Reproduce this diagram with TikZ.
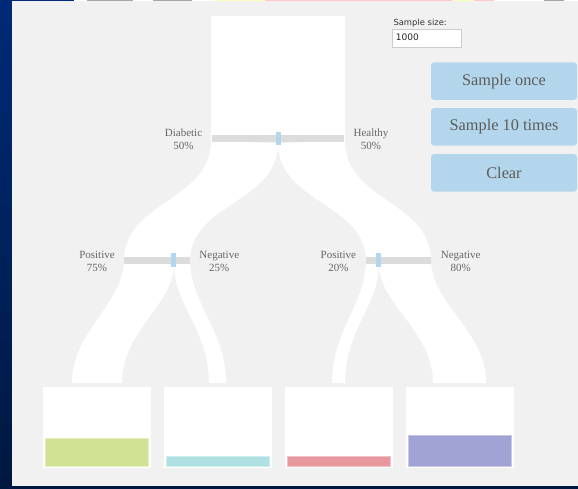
\documentclass[tikz,border=0pt]{standalone}
\usepackage{fontspec}
\setmainfont{Liberation Serif}
\newfontfamily\uifont{DejaVu Sans}
\usepackage{xcolor}
\usepackage{tikz}
\usetikzlibrary{positioning}

\definecolor{panelgray}{HTML}{F1F1F1}
\definecolor{bargray}{HTML}{DCDCDC}
\definecolor{handleblue}{HTML}{B4D5EC}
\definecolor{btnblue}{HTML}{B4D6EC}
\definecolor{labelgray}{HTML}{666666}
\definecolor{btntext}{HTML}{5C5C5C}
\definecolor{navytop}{HTML}{002A78}
\definecolor{navybot}{HTML}{001840}
\definecolor{resgreen}{HTML}{D2E294}
\definecolor{rescyan}{HTML}{B0E1E2}
\definecolor{respink}{HTML}{E8989C}
\definecolor{respurple}{HTML}{A0A3D3}

\tikzset{
        flow/.style={fill=white},
        slider/.style={fill=bargray},
        knob/.style={fill=handleblue},
        lbl/.style={align=center, text=labelgray, inner sep=0pt, font=\fontsize{11}{13.3}\selectfont},
        button/.style={rectangle, fill=btnblue, rounded corners=3pt, minimum width=146pt, minimum height=37.5pt, text=btntext, font=\fontsize{16.3}{18}\selectfont},
        resbox/.style={fill=white},
        resbar/.style={line width=0.8pt},
    }

\begin{document}
\begin{tikzpicture}[x=1pt, y=-1pt]
        \useasboundingbox (0,0) rectangle (578,489);
        % page background and panel
        \shade[top color=navytop, bottom color=navybot] (0,0) rectangle (578,489);
        \fill[panelgray] (12,1.3) rectangle (578,486);
        \fill[white] (73.7,0) rectangle (578,1.3);
        \fill[gray!70] (86.6,0) rectangle (132.7,0.8);
        \fill[gray!70] (153,0) rectangle (191.7,0.8);
        \fill[yellow!25] (215,0) rectangle (264.6,1.3);
        \fill[red!22] (264.6,0) rectangle (451.5,1.3);
        \fill[yellow!25] (451.5,0) rectangle (473.6,1.3);
        \fill[red!22] (473.6,0) rectangle (494,1.3);
        \fill[gray!70] (543.7,0) rectangle (564,0.8);

        % population box and first split
        \fill[flow] (211,16) rectangle (345,142);
        \fill[flow] (211,141) .. controls (211,201) and (124,201) .. (124,261) -- (190,261) .. controls (190,203) and (278,203) .. (278,143) -- cycle;
        \fill[flow] (345,141) .. controls (345,201) and (431,201) .. (431,261) -- (366,261) .. controls (366,203) and (278,203) .. (278,143) -- cycle;

        % second split
        \fill[flow] (124,259) .. controls (124,305) and (72,330) .. (72,383) -- (122,383) .. controls (122,330) and (174,305) .. (174,264) -- cycle;
        \fill[flow] (190,259) .. controls (190,305) and (226,330) .. (226,383) -- (209,383) .. controls (209,330) and (174,305) .. (174,264) -- cycle;
        \fill[flow] (366,259) .. controls (366,305) and (332,330) .. (332,383) -- (345,383) .. controls (345,330) and (379,305) .. (379,264) -- cycle;
        \fill[flow] (431,259) .. controls (431,305) and (486,330) .. (486,383) -- (433,383) .. controls (433,330) and (379,305) .. (379,264) -- cycle;

        % sliders
        \fill[slider] (212,135) rectangle (344.3,142);
        \fill[knob] (275.7,131.7) rectangle (280.6,145);
        \fill[slider] (124,257) rectangle (189.5,264);
        \fill[knob] (171.4,253) rectangle (176.2,267);
        \fill[slider] (366,257) rectangle (431.3,264);
        \fill[knob] (376.3,253) rectangle (381,267);

        % slider labels
        \node[lbl] (diabetic) at (183.5,139.3) {Diabetic\\50\%};
        \node[lbl] (healthy) at (371,139.3) {Healthy\\50\%};
        \node[lbl] (posdiab) at (97,261.4) {Positive\\75\%};
        \node[lbl] (negdiab) at (219.3,261.4) {Negative\\25\%};
        \node[lbl] (posheal) at (338.4,261.4) {Positive\\20\%};
        \node[lbl] (negheal) at (460.7,261.4) {Negative\\80\%};

        % sample size input
        \node[anchor=base west, inner sep=0pt, text=black!80, font=\uifont\fontsize{8.4}{10}\selectfont] (sizelabel) at (393.3,26) {Sample size:};
        \node[draw=black!20, fill=white, line width=0.6pt, minimum width=68.5pt, minimum height=18pt, inner sep=0pt] (sizebox) at (426.7,38) {};
        \node[anchor=base west, inner sep=0pt, text=black!85, font=\uifont\fontsize{9}{10}\selectfont] (sizevalue) at (395.7,41) {1000};

        % buttons
        \node[button] (once) at (504,81.2) {Sample once};
        \node[button] (tentimes) at (504,126.9) {Sample 10 times};
        \node[button] (clear) at (504,172.9) {Clear};

        % result boxes
        \fill[resbox] (42.5,387) rectangle (151,468.3);
        \fill[resbox] (163.5,387) rectangle (272,468.3);
        \fill[resbox] (284.5,387) rectangle (393,468.3);
        \fill[resbox] (405.5,387) rectangle (514,468.3);
        \filldraw[resbar, fill=resgreen, draw=resgreen!60!white] (45.5,438) rectangle (148,466);
        \filldraw[resbar, fill=rescyan, draw=rescyan!60!white] (166.5,456.3) rectangle (269,466);
        \filldraw[resbar, fill=respink, draw=respink!60!white] (287.5,456.3) rectangle (390,466);
        \filldraw[resbar, fill=respurple, draw=respurple!60!white] (408.5,435.3) rectangle (511,466);
    \end{tikzpicture}
\end{document}
